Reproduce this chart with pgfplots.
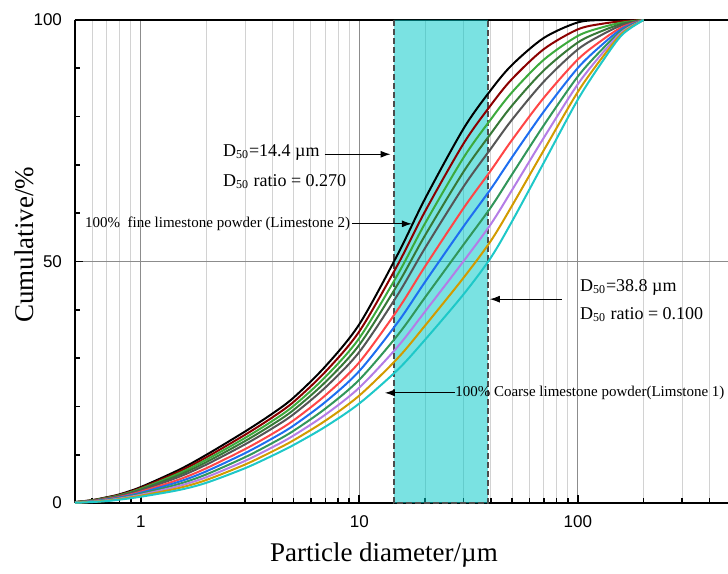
\documentclass[border=0pt]{standalone}
\usepackage{fontspec}
\setmainfont{Liberation Serif}
\newfontfamily\arialfont{Liberation Sans}
\usepackage{pgfplots}
\usepackage{pgfplotstable}
\pgfplotsset{compat=1.18}
\usetikzlibrary{arrows.meta,calc}

\definecolor{cRect}{RGB}{0,200,200}
\definecolor{cDarkRed}{RGB}{139,0,0}
\definecolor{cGreen}{RGB}{60,170,60}
\definecolor{cDarkGreen}{RGB}{55,120,55}
\definecolor{cGray}{RGB}{85,85,85}
\definecolor{cRed}{RGB}{255,70,70}
\definecolor{cBlue}{RGB}{30,110,240}
\definecolor{cSeaGreen}{RGB}{50,150,90}
\definecolor{cViolet}{RGB}{180,125,230}
\definecolor{cGold}{RGB}{210,155,0}
\definecolor{cCyan}{RGB}{30,200,200}

% cumulative passing (%) vs particle diameter (um), fine (c0) -> coarse (c10)
\pgfplotstableread{
x   c0    c1    c2    c3    c4    c5    c6    c7    c8    c9    c10
0.5 0.20  0.19  0.17  0.16  0.15  0.13  0.11  0.10  0.08  0.07  0.05
0.6 0.60  0.56  0.53  0.50  0.46  0.41  0.36  0.32  0.28  0.24  0.20
0.7 1.20  1.13  1.06  0.99  0.92  0.82  0.73  0.64  0.56  0.48  0.40
0.8 1.80  1.70  1.61  1.51  1.42  1.27  1.15  1.03  0.92  0.81  0.70
1   3.30  3.12  2.95  2.78  2.60  2.34  2.12  1.90  1.70  1.50  1.30
1.5 6.90  6.52  6.17  5.81  5.43  4.88  4.42  3.96  3.54  3.12  2.70
2   10.00 9.48  8.99  8.49  7.97  7.22  6.58  5.94  5.36  4.78  4.20
3   14.80 14.12 13.47 12.82 12.14 11.15 10.32 9.48  8.72  7.96  7.20
4   18.50 17.72 16.98 16.24 15.46 14.32 13.37 12.41 11.54 10.67 9.80
5   21.80 20.92 20.09 19.25 18.37 17.10 16.02 14.94 13.96 12.98 12.00
7   28.30 27.18 26.11 25.05 23.93 22.30 20.93 19.55 18.30 17.05 15.80
10  37.00 35.52 34.13 32.74 31.26 29.13 27.32 25.52 23.88 22.24 20.60
15  51.50 49.35 47.32 45.29 43.14 40.03 37.40 34.77 32.38 29.99 27.60
20  63.00 60.37 57.89 55.41 52.78 48.98 45.77 42.56 39.64 36.72 33.80
30  77.50 74.41 71.50 68.58 65.50 61.04 57.26 53.49 50.06 46.63 43.20
40  85.50 82.38 79.43 76.48 73.36 68.84 65.03 61.21 57.74 54.27 50.80
50  90.70 87.78 85.03 82.28 79.36 75.15 71.58 68.02 64.78 61.54 58.30
70  96.30 93.98 91.79 89.59 87.27 83.92 81.08 78.24 75.66 73.08 70.50
100 99.50 98.06 96.70 95.34 93.90 91.82 90.06 88.30 86.70 85.10 83.50
130 100   99.24 98.51 97.79 97.03 95.92 94.99 94.05 93.20 92.35 91.50
160 100   99.73 99.48 99.22 98.95 98.56 98.23 97.90 97.60 97.30 97.00
200 100   100   100   100   100   100   100   100   100   100   100
}\psd

\begin{document}
\begin{tikzpicture}
\begin{axis}[
   scale only axis,
   width=326.5pt, height=241.5pt,
   xmode=log,
   xmin=0.5, xmax=487,
   ymin=0, ymax=100,
   axis x line*=box,
   axis y line*=left,
   axis line style={line width=1.2pt},
   xtick={1,10,100}, xticklabels={1,10,100},
   minor xtick={0.6,0.7,0.8,0.9,2,3,4,5,6,7,8,9,20,30,40,50,60,70,80,90,200,300,400},
   ytick={0,50,100},
   minor ytick={10,20,30,40,60,70,80,90},
   xtick pos=bottom, ytick pos=left,
   tick align=inside,
   major tick length=4pt, minor tick length=2.5pt,
   every tick/.style={black, line width=0.8pt},
   xmajorgrids, xminorgrids, ymajorgrids,
   major grid style={gray!90, line width=0.7pt},
   minor grid style={gray!35, line width=0.5pt},
   /pgf/number format/assume math mode=true,
   ticklabel style={font=\arialfont\fontsize{8.5}{10}\selectfont},
   xticklabel style={yshift=-3pt},
   yticklabel style={xshift=-3pt},
   xlabel={Particle diameter/µm},
   ylabel={Cumulative/\%},
   label style={font=\fontsize{13.5}{15}\selectfont},
   xlabel style={at={(axis description cs:0.473,-0.108)}, anchor=center},
   ylabel style={at={(axis description cs:-0.077,0.535)}, anchor=center},
   every axis plot/.append style={line width=1pt, no markers},
]
  % D50 band between the two limestones
  \addplot[draw=none, fill=cRect, fill opacity=0.52, sharp plot]
     coordinates {(14.4,0) (14.4,100) (38.8,100) (38.8,0)} \closedcycle;
  \addplot[gray!60!black, line width=0.8pt, dash pattern=on 3pt off 1.5pt, sharp plot]
     coordinates {(14.4,100) (14.4,0) (38.8,0) (38.8,100)};

  \addplot[black, smooth]      table[x=x,y=c0]  {\psd};
  \addplot[cDarkRed, smooth]   table[x=x,y=c1]  {\psd};
  \addplot[cGreen, smooth]     table[x=x,y=c2]  {\psd};
  \addplot[cDarkGreen, smooth] table[x=x,y=c3]  {\psd};
  \addplot[cGray, smooth]      table[x=x,y=c4]  {\psd};
  \addplot[cRed, smooth]       table[x=x,y=c5]  {\psd};
  \addplot[cBlue, smooth]      table[x=x,y=c6]  {\psd};
  \addplot[cSeaGreen, smooth]  table[x=x,y=c7]  {\psd};
  \addplot[cViolet, smooth]    table[x=x,y=c8]  {\psd};
  \addplot[cGold, smooth]      table[x=x,y=c9]  {\psd};
  \addplot[cCyan, smooth]      table[x=x,y=c10] {\psd};

  % annotations
  \tikzset{ann/.style={anchor=west, inner sep=0pt},
           arr/.style={-{Latex[length=5pt,width=3.5pt]}, line width=0.5pt}}
  \node[ann, font=\fontsize{9}{10}\selectfont] at (axis cs:2.37,72.5) {D\textsubscript{50}=14.4 µm};
  \node[ann, font=\fontsize{9}{10}\selectfont] at (axis cs:2.37,66.5) {D\textsubscript{50} ratio = 0.270};
  \draw[arr] (axis cs:6.95,72.2) -- (axis cs:13.9,72.2);
  \node[ann, font=\fontsize{7.5}{9}\selectfont] at (axis cs:0.554,57.8) {100\%\ \ fine limestone powder (Limestone 2)};
  \draw[arr] (axis cs:9.25,57.8) -- (axis cs:17.4,57.8);
  \node[ann, font=\fontsize{9}{10}\selectfont] at (axis cs:102,44.7) {D\textsubscript{50}=38.8 µm};
  \node[ann, font=\fontsize{9}{10}\selectfont] at (axis cs:102,39.1) {D\textsubscript{50} ratio = 0.100};
  \draw[arr] (axis cs:84.5,42.2) -- (axis cs:39.6,42.2);
  \node[ann, font=\fontsize{7.5}{9}\selectfont] at (axis cs:27.4,22.8) {100\%\ Coarse limestone powder(Limstone 1)};
  \draw[arr] (axis cs:27.4,22.8) -- (axis cs:13.1,22.8);

  \coordinate (SW) at (rel axis cs:0,0);
  \coordinate (NE) at (rel axis cs:1,1);
\end{axis}
\pgfresetboundingbox
\path ($(SW)+(-37.5pt,-35pt)$) rectangle ($(NE)+(0,10pt)$);
\end{tikzpicture}
\end{document}
